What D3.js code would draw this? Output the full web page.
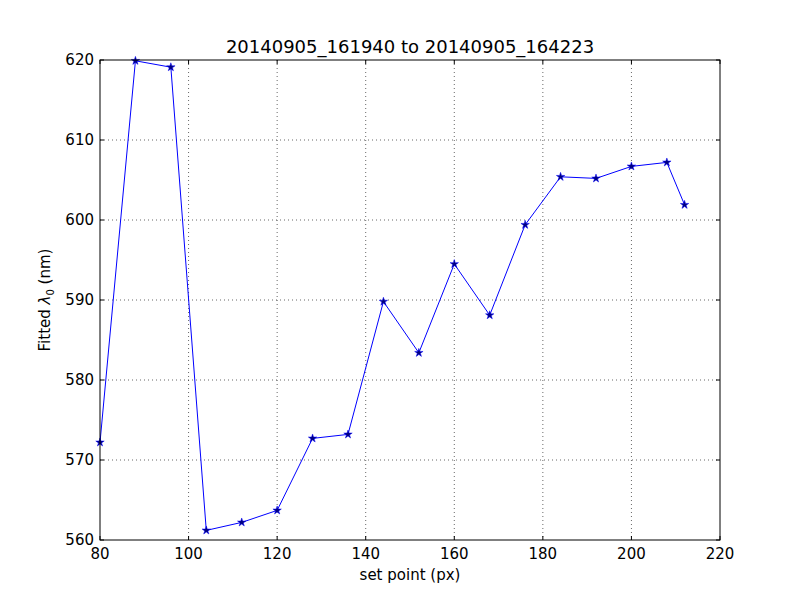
<!DOCTYPE html>
<html><head><meta charset="utf-8">
<script src="https://cdn.jsdelivr.net/npm/d3@7"></script>
<style>body{margin:0;background:#fff}text{font-family:"DejaVu Sans",sans-serif}</style>
</head><body><svg id="c" width="800" height="600"></svg>
<script>
const setPoints = [80, 88, 96, 104, 112, 120, 128, 136, 144, 152, 160, 168, 176, 184, 192, 200, 208, 212];
const lambda0 = [572.2, 619.9, 619.1, 561.2, 562.2, 563.7, 572.7, 573.2, 589.8, 583.4, 594.5, 588.1, 599.4, 605.4, 605.2, 606.7, 607.2, 601.9];
const xTicks = [80, 100, 120, 140, 160, 180, 200, 220];
const yTicks = [560, 570, 580, 590, 600, 610, 620];

const svg = d3.select('#c');
const m = {left: 100, right: 720, top: 60, bottom: 540};
const x = d3.scaleLinear().domain([80, 220]).range([m.left, m.right]);
const y = d3.scaleLinear().domain([560, 620]).range([m.bottom, m.top]);

svg.append('rect').attr('width', 800).attr('height', 600).attr('fill', '#fff');

// grid
const grid = svg.append('g').attr('stroke', '#000').attr('stroke-width', 0.6).attr('stroke-dasharray', '1,3');
grid.selectAll('.gx').data(xTicks.slice(1, -1)).join('line')
  .attr('x1', d => x(d)).attr('x2', d => x(d)).attr('y1', m.top).attr('y2', m.bottom);
grid.selectAll('.gy').data(yTicks.slice(1, -1)).join('line')
  .attr('y1', d => y(d)).attr('y2', d => y(d)).attr('x1', m.left).attr('x2', m.right);

// ticks (inward, both sides)
const tk = svg.append('g').attr('stroke', '#000').attr('stroke-width', 1);
xTicks.forEach(t => {
  tk.append('line').attr('x1', x(t)).attr('x2', x(t)).attr('y1', m.bottom).attr('y2', m.bottom - 4);
  tk.append('line').attr('x1', x(t)).attr('x2', x(t)).attr('y1', m.top).attr('y2', m.top + 4);
  svg.append('text').attr('x', x(t)).attr('y', m.bottom + 19).attr('text-anchor', 'middle').attr('font-size', 15).text(t);
});
yTicks.forEach(t => {
  tk.append('line').attr('y1', y(t)).attr('y2', y(t)).attr('x1', m.left).attr('x2', m.left + 4);
  tk.append('line').attr('y1', y(t)).attr('y2', y(t)).attr('x1', m.right).attr('x2', m.right - 4);
  svg.append('text').attr('x', m.left - 6).attr('y', y(t) + 5).attr('text-anchor', 'end').attr('font-size', 15).text(t);
});

const data = setPoints.map((d, i) => [d, lambda0[i]]);
svg.append('path').datum(data)
  .attr('fill', 'none').attr('stroke', '#0000ff').attr('stroke-width', 1)
  .attr('d', d3.line().x(d => x(d[0])).y(d => y(d[1])));

const star = d3.symbol().type(d3.symbolStar).size(22);
svg.append('g').selectAll('path').data(data).join('path')
  .attr('d', star).attr('transform', d => `translate(${x(d[0])},${y(d[1])})`)
  .attr('fill', '#000080').attr('stroke', '#0000ff').attr('stroke-width', 0.5);

svg.append('rect').attr('x', m.left).attr('y', m.top).attr('width', m.right - m.left).attr('height', m.bottom - m.top)
  .attr('fill', 'none').attr('stroke', '#000').attr('stroke-width', 1);

svg.append('text').attr('x', 410).attr('y', 53).attr('text-anchor', 'middle').attr('font-size', 18)
  .text('20140905_161940 to 20140905_164223');
svg.append('text').attr('x', 410).attr('y', 580).attr('text-anchor', 'middle').attr('font-size', 15).text('set point (px)');
const yl = svg.append('text').attr('transform', 'translate(50,300) rotate(-90)').attr('text-anchor', 'middle').attr('font-size', 15);
yl.append('tspan').text('Fitted ');
yl.append('tspan').attr('font-style', 'italic').text('λ');
yl.append('tspan').attr('font-size', 10).attr('dy', 4).text('0');
yl.append('tspan').attr('dy', -4).text(' (nm)');
</script></body></html>
